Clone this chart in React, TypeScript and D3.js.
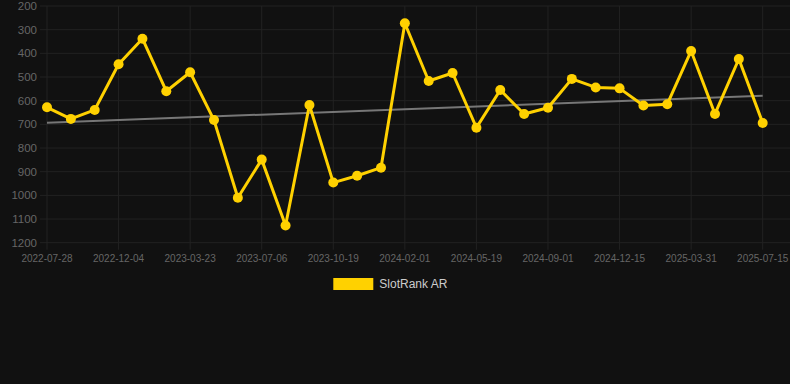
import React from "react";
import * as d3 from "d3";

const dates = [
  "2022-07-28", "2022-09-09", "2022-10-22", "2022-12-04", "2023-01-09", "2023-02-14",
  "2023-03-23", "2023-04-27", "2023-06-01", "2023-07-06", "2023-08-10", "2023-09-14",
  "2023-10-19", "2023-11-23", "2023-12-28", "2024-02-01", "2024-03-07", "2024-04-13",
  "2024-05-19", "2024-06-23", "2024-07-28", "2024-09-01", "2024-10-06", "2024-11-10",
  "2024-12-15", "2025-01-19", "2025-02-23", "2025-03-31", "2025-05-05", "2025-06-09",
  "2025-07-15",
];

const ranks = [
  628, 677, 639, 446, 338, 560, 480, 682, 1010, 849, 1127, 618, 946, 917, 883, 273,
  517, 483, 714, 555, 656, 630, 508, 544, 548, 620, 615, 390, 656, 424, 694,
];

const trendEnds = [693, 579];

const yTicks = [200, 300, 400, 500, 600, 700, 800, 900, 1000, 1100, 1200];

const xTickLabels = [
  "2022-07-28", "2022-12-04", "2023-03-23", "2023-07-06", "2023-10-19", "2024-02-01",
  "2024-05-19", "2024-09-01", "2024-12-15", "2025-03-31", "2025-07-15",
];

const seriesName = "SlotRank AR";

export default function App() {
  const W = 790;
  const H = 384;
  const left = 47;
  const right = 762.7;
  const top = 6;
  const bottom = 242.7;
  const gridLeft = 40;
  const gridRight = 790;

  const x = d3.scalePoint<string>().domain(dates).range([left, right]);
  const y = d3.scaleLinear().domain([200, 1200]).range([top, bottom]);

  const line = d3
    .line<number>()
    .x((_, i) => x(dates[i]) as number)
    .y((d) => y(d));

  const gold = "#FFD100";
  const font = "'Liberation Sans', Arial, Helvetica, sans-serif";

  return (
    <div style={{ position: "absolute", left: 0, top: 0, width: W, height: H }}>
      <svg width={W} height={H} style={{ display: "block", background: "#111111" }}>
        <rect x={0} y={0} width={W} height={H} fill="#111111" />
        {yTicks.map((t) => (
          <line key={"hy" + t} x1={gridLeft} x2={gridRight} y1={y(t)} y2={y(t)} stroke="#222222" strokeWidth={1} />
        ))}
        {xTickLabels.map((d) => (
          <line key={"vx" + d} x1={x(d)} x2={x(d)} y1={top} y2={bottom + 7} stroke="#222222" strokeWidth={1} />
        ))}
        {yTicks.map((t) => (
          <text key={"ty" + t} x={37} y={y(t)} dy="0.35em" textAnchor="end" fill="#666666" fontSize={11.5} fontFamily={font}>
            {t}
          </text>
        ))}
        {xTickLabels.map((d) => (
          <text key={"tx" + d} x={x(d)} y={262} textAnchor="middle" fill="#666666" fontSize={10} fontFamily={font}>
            {d}
          </text>
        ))}
        <line
          x1={x(dates[0])}
          x2={x(dates[dates.length - 1])}
          y1={y(trendEnds[0])}
          y2={y(trendEnds[1])}
          stroke="#777777"
          strokeWidth={2}
        />
        <path d={line(ranks) ?? ""} fill="none" stroke={gold} strokeWidth={3} strokeLinejoin="round" />
        {ranks.map((v, i) => (
          <circle key={"p" + i} cx={x(dates[i])} cy={y(v)} r={5} fill={gold} />
        ))}
        <rect x={333.3} y={278} width={40} height={12} fill={gold} />
        <text x={379.3} y={284} dy="0.35em" fill="#cccccc" fontSize={12} fontFamily={font}>
          {seriesName}
        </text>
      </svg>
    </div>
  );
}
